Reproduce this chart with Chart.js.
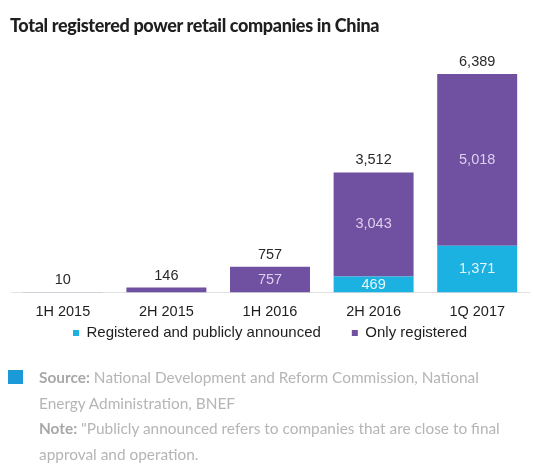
<!DOCTYPE html>
<html>
<head>
<meta charset="utf-8">
<script src="https://cdn.jsdelivr.net/npm/chart.js@4"></script>
<style>
  html, body { margin:0; padding:0; background:#fff; width:534px; height:476px; overflow:hidden; }
  #title { position:absolute; left:10px; top:14px; font-family:Lato, sans-serif; font-weight:900; font-size:18px; color:#1f1f1f; letter-spacing:-0.35px; white-space:nowrap; }
  #wrap { position:absolute; left:0; top:0; width:534px; height:380px; }
  #sq { position:absolute; left:8px; top:370px; width:15px; height:14px; background:#1a9bd7; }
  #foot { position:absolute; left:39px; top:365px; font-family:Lato, sans-serif; font-size:15.4px; line-height:25.6px; color:#b5b5b5; white-space:nowrap; }
  #foot b { color:#a8a8a8; font-weight:700; }
</style>
</head>
<body>
<div id="wrap"><canvas id="c"></canvas></div>
<div id="title">Total registered power retail companies in China</div>
<div id="sq"></div>
<div id="foot"><b>Source:</b> National Development and Reform Commission, National<br>Energy Administration, BNEF<br><b>Note:</b> "Publicly announced refers to companies that are close to final<br>approval and operation.</div>
<script>
const categories = ['1H 2015', '2H 2015', '1H 2016', '2H 2016', '1Q 2017'];
const announced = [0, 0, 0, 469, 1371];
const onlyRegistered = [10, 146, 757, 3043, 5018];
const totals = [10, 146, 757, 3512, 6389];
const showInner = [false, false, true, true, true];

const fmt = v => v.toLocaleString('en-US');

const labelPlugin = {
  id: 'labels',
  afterDatasetsDraw(chart) {
    const ctx = chart.ctx;
    ctx.save();
    ctx.textAlign = 'center';
    ctx.textBaseline = 'middle';
    ctx.font = '14.5px "Liberation Sans", Arial, sans-serif';
    const m0 = chart.getDatasetMeta(0), m1 = chart.getDatasetMeta(1);
    categories.forEach((c, i) => {
      const b0 = m0.data[i], b1 = m1.data[i];
      if (showInner[i]) {
        if (announced[i] > 0) {
          ctx.fillStyle = '#e6f6fc';
          ctx.fillText(fmt(announced[i]), b0.x, (b0.y + b0.base) / 2);
        }
        ctx.fillStyle = '#dcd0ee';
        ctx.fillText(fmt(onlyRegistered[i]), b1.x, (b1.y + b1.base) / 2);
      }
      ctx.fillStyle = '#2a2a2a';
      ctx.fillText(fmt(totals[i]), b1.x, Math.min(b1.y, b0.y) - 12);
    });
    ctx.restore();
  }
};

const legendShift = {
  id: 'legendShift',
  afterLayout(chart) {
    const lg = chart.legend;
    if (!lg) return;
    const pad = lg.options.labels.padding;
    const top = 333 - pad - 7.5;
    const h = lg.height;
    lg.top = top;
    lg.bottom = top + h;
  }
};

new Chart(document.getElementById('c'), {
  type: 'bar',
  data: {
    labels: categories,
    datasets: [
      { label: 'Registered and publicly announced', data: announced, backgroundColor: '#1bb1e1', barPercentage: 0.772, categoryPercentage: 1 },
      { label: 'Only registered', data: onlyRegistered, backgroundColor: '#7050a1', barPercentage: 0.772, categoryPercentage: 1 }
    ]
  },
  options: {
    responsive: true,
    maintainAspectRatio: false,
    animation: false,
    layout: { padding: { left: 11, right: 5, top: 53, bottom: 0 } },
    scales: {
      x: {
        stacked: true,
        grid: { display: false },
        border: { display: true, color: '#e2e2e2', width: 1 },
        ticks: { color: '#1e1e1e', font: { family: '"Liberation Sans", Arial, sans-serif', size: 14.5 }, padding: 3 }
      },
      y: { stacked: true, display: false, min: 0, max: 7000 }
    },
    plugins: {
      legend: {
        position: 'bottom',
        labels: { color: '#1e1e1e', font: { family: '"Liberation Sans", Arial, sans-serif', size: 15 }, boxWidth: 6, boxHeight: 6, padding: 31 }
      },
      tooltip: { enabled: false }
    }
  },
  plugins: [labelPlugin, legendShift]
});
</script>
</body>
</html>
